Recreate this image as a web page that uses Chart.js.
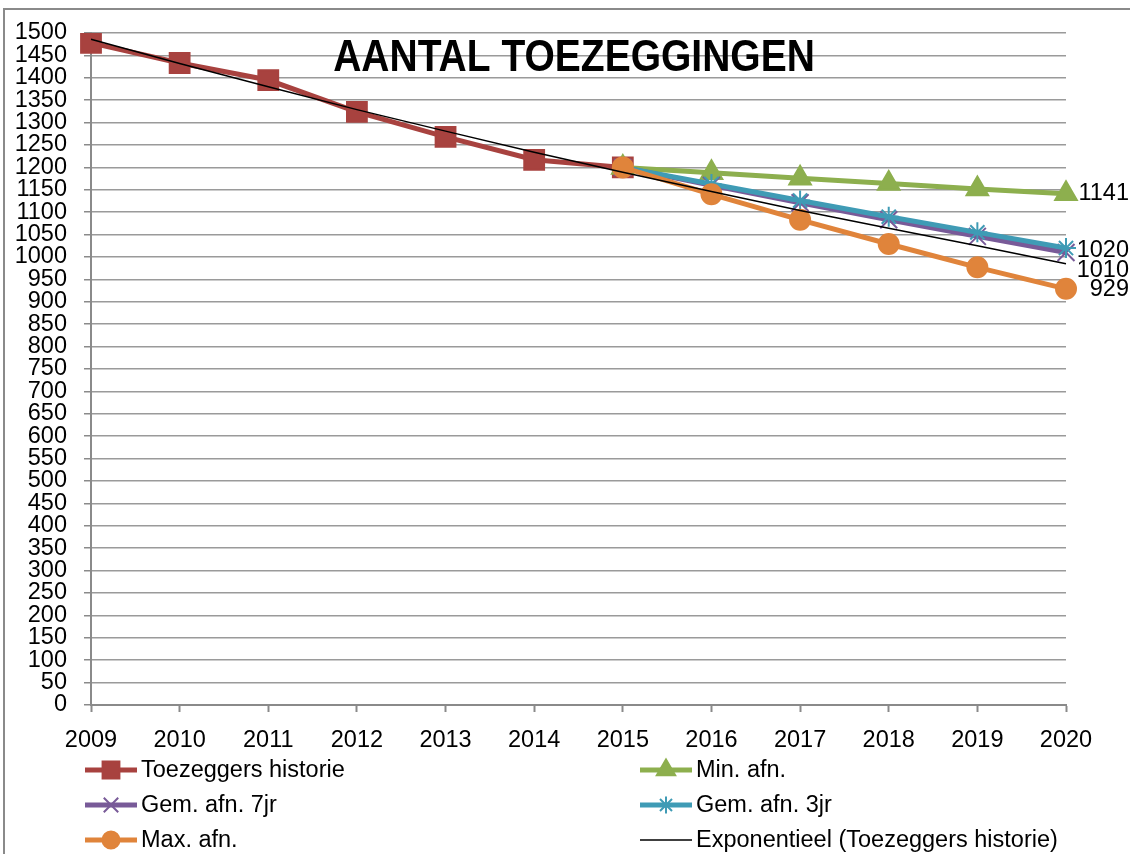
<!DOCTYPE html>
<html>
<head>
<meta charset="utf-8">
<script src="https://cdn.jsdelivr.net/npm/chart.js@4/dist/chart.umd.min.js"></script>
<style>
    body { margin: 0; background: #fff; }
    #wrap { position: relative; width: 1130px; height: 854px; overflow: hidden; }
    #frame { position: absolute; left: 3px; top: 8px; width: 1200px; height: 900px; border: 2px solid #8a8a8a; }
    #chart { position: absolute; left: 0; top: 0; }
</style>
</head>
<body>
<div id="wrap">
    <div id="frame"></div>
    <canvas id="chart" width="1130" height="854"></canvas>
</div>
<script>
const years = ["2009", "2010", "2011", "2012", "2013", "2014", "2015", "2016", "2017", "2018", "2019", "2020"];

const historie = [1478, 1433, 1395, 1324, 1268, 1217, 1200, null, null, null, null, null];
const minAfn = [null, null, null, null, null, null, 1200, 1188, 1176, 1164, 1152, 1141];
const gem7 = [null, null, null, null, null, null, 1200, 1160, 1121, 1083, 1046, 1010];
const gem3 = [null, null, null, null, null, null, 1200, 1163, 1126, 1090, 1055, 1020];
const maxAfn = [null, null, null, null, null, null, 1200, 1140, 1083, 1029, 977, 929];
const trend = [1486, 1432, 1380, 1329, 1281, 1234, 1189, 1146, 1104, 1064, 1025, 985];

const FONT = "'Liberation Sans', Arial, sans-serif";
const TEXT_SIZE = 23.5;

const titlePlugin = {
    id: "titleInside",
    afterDraw(chart) {
        const ctx = chart.ctx;
        ctx.save();
        ctx.font = "bold 39px " + FONT;
        ctx.fillStyle = "#000";
        ctx.textAlign = "center";
        ctx.textBaseline = "middle";
        ctx.translate(574, 59);
        ctx.scale(1, 1.12);
        ctx.fillText("AANTAL TOEZEGGINGEN", 0, 0);
        ctx.restore();
    }
};

const endLabelPlugin = {
    id: "endLabels",
    afterDatasetsDraw(chart) {
        const ctx = chart.ctx;
        ctx.save();
        ctx.font = TEXT_SIZE + "px " + FONT;
        ctx.fillStyle = "#000";
        ctx.textAlign = "right";
        ctx.textBaseline = "middle";
        chart.data.datasets.forEach((ds, i) => {
            if (ds.endLabelDy === undefined) return;
            const meta = chart.getDatasetMeta(i);
            const last = meta.data[meta.data.length - 1];
            const value = ds.data[ds.data.length - 1];
            ctx.fillText(String(value), last.x + 63, last.y + ds.endLabelDy);
        });
        ctx.restore();
    }
};

const legendPlugin = {
    id: "gridLegend",
    afterDraw(chart) {
        const ctx = chart.ctx;
        const cols = [85, 640];
        const rows = [770, 805, 840];
        ctx.save();
        ctx.font = TEXT_SIZE + "px " + FONT;
        ctx.textBaseline = "middle";
        ctx.textAlign = "left";
        chart.data.datasets.forEach((ds, i) => {
            const x = cols[i % 2];
            const y = rows[Math.floor(i / 2)];
            ctx.strokeStyle = ds.borderColor;
            ctx.lineWidth = ds.borderWidth;
            ctx.lineCap = "butt";
            ctx.beginPath();
            ctx.moveTo(x, y);
            ctx.lineTo(x + 52, y);
            ctx.stroke();
            if (ds.pointStyle) {
                ctx.fillStyle = ds.pointBackgroundColor;
                ctx.strokeStyle = ds.pointBorderColor;
                ctx.lineWidth = ds.pointBorderWidth;
                Chart.helpers.drawPoint(ctx, {
                    pointStyle: ds.pointStyle,
                    radius: ds.pointRadius * 0.85,
                    rotation: 0,
                    borderWidth: ds.pointBorderWidth
                }, x + 26, y);
            }
            ctx.fillStyle = "#000";
            ctx.fillText(ds.label, x + 56, y + 1);
        });
        ctx.restore();
    }
};

const series = (label, data, color, style, radius, order, extra) => Object.assign({
    label: label,
    data: data,
    borderColor: color,
    backgroundColor: color,
    borderWidth: 5,
    pointStyle: style,
    pointRadius: radius,
    pointHoverRadius: radius,
    pointBackgroundColor: color,
    pointBorderColor: color,
    pointBorderWidth: 2,
    order: order,
    tension: 0
}, extra || {});

new Chart(document.querySelector("#chart"), {
    type: "line",
    data: {
        labels: years,
        datasets: [
            series("Toezeggers historie", historie, "#A8423F", "rect", 14, 5),
            series("Min. afn.", minAfn, "#8DAF4E", "triangle", 12.5, 4, { endLabelDy: 0 }),
            series("Gem. afn. 7jr", gem7, "#785A98", "crossRot", 12, 3, { endLabelDy: 18 }),
            series("Gem. afn. 3jr", gem3, "#3F9BB5", "star", 10, 2, { endLabelDy: 2 }),
            series("Max. afn.", maxAfn, "#E0843B", "circle", 10, 1, { endLabelDy: 1 }),
            series("Exponentieel (Toezeggers historie)", trend, "#000000", false, 0, 0, { borderWidth: 1.5 })
        ]
    },
    options: {
        responsive: false,
        animation: false,
        events: [],
        layout: {
            padding: { top: 33, right: 64, left: 0, bottom: 0 }
        },
        scales: {
            x: {
                offset: false,
                afterFit: (scale) => { scale.height = 149; },
                border: { display: true, color: "#8a8a8a", width: 2 },
                grid: {
                    drawOnChartArea: false,
                    drawTicks: true,
                    tickLength: 7,
                    tickWidth: 2,
                    tickColor: "#8a8a8a"
                },
                ticks: {
                    color: "#000",
                    padding: 14,
                    maxRotation: 0,
                    autoSkip: false,
                    font: { family: FONT, size: TEXT_SIZE }
                }
            },
            y: {
                min: 0,
                max: 1500,
                afterFit: (scale) => { scale.width = 91; },
                border: { display: true, color: "#8a8a8a", width: 2 },
                grid: {
                    color: "#9a9a9a",
                    lineWidth: 1.5,
                    tickLength: 7,
                    tickColor: "#8a8a8a"
                },
                ticks: {
                    stepSize: 50,
                    autoSkip: false,
                    color: "#000",
                    padding: 17,
                    font: { family: FONT, size: TEXT_SIZE },
                    callback: (value) => String(value)
                }
            }
        },
        plugins: {
            legend: { display: false },
            tooltip: { enabled: false }
        }
    },
    plugins: [titlePlugin, endLabelPlugin, legendPlugin]
});
</script>
</body>
</html>
